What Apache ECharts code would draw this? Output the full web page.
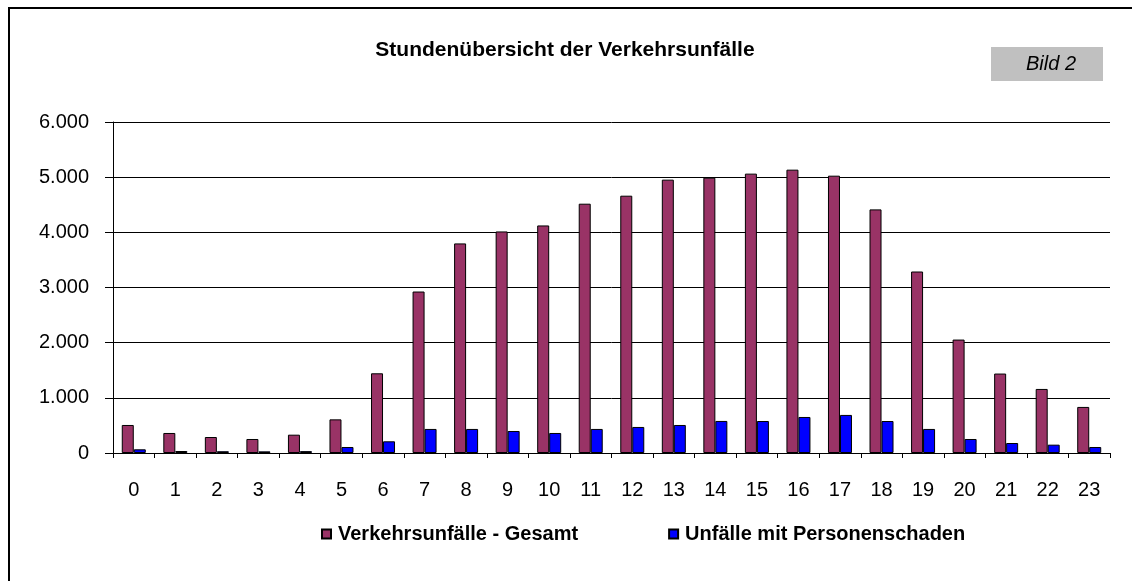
<!DOCTYPE html>
<html>
<head>
<meta charset="utf-8">
<script src="https://cdn.jsdelivr.net/npm/echarts@6/dist/echarts.min.js"></script>
<style>
  html, body { margin: 0; padding: 0; background: #fff; }
  #main { width: 1132px; height: 581px; }
</style>
</head>
<body>
<div id="main"></div>
<script>
var chartDom = document.getElementById('main');
var myChart = echarts.init(chartDom);
var option;

const FONT = '"Liberation Sans", Arial, sans-serif';

// Stunden 0..23
const hours = ['0', '1', '2', '3', '4', '5', '6', '7', '8', '9', '10', '11',
  '12', '13', '14', '15', '16', '17', '18', '19', '20', '21', '22', '23'];

const gesamt = [508, 363, 290, 254, 332, 610, 1445, 2927, 3799, 4016, 4125, 4519,
  4664, 4955, 4991, 5064, 5136, 5027, 4416, 3290, 2056, 1440, 1161, 835];

const personenschaden = [67, 36, 32, 30, 34, 109, 212, 436, 436, 399, 363, 436,
  472, 508, 581, 580, 653, 690, 580, 436, 254, 181, 151, 109];

const seriesNames = ['Verkehrsunfälle - Gesamt', 'Unfälle mit Personenschaden'];

function formatThousands(v) {
  return String(v).replace(/\B(?=(\d{3})+(?!\d))/g, '.');
}

option = {
  animation: false,
  backgroundColor: '#fff',
  textStyle: { fontFamily: FONT },
  title: {
    text: 'Stundenübersicht der Verkehrsunfälle',
    left: 560,
    textAlign: 'center',
    top: 35,
    textStyle: { fontFamily: FONT, fontSize: 21, fontWeight: 'bold', color: '#000' }
  },
  legend: {
    data: seriesNames,
    left: 316,
    top: 519,
    itemWidth: 9,
    itemHeight: 9,
    itemGap: 90,
    selectedMode: false,
    icon: 'rect',
    textStyle: { fontFamily: FONT, fontSize: 20, fontWeight: 'bold', color: '#000', padding: [0, 0, 0, 2] }
  },
  grid: {
    left: 113,
    right: 22,
    top: 122,
    bottom: 128,
    containLabel: false
  },
  xAxis: {
    type: 'category',
    data: hours,
    axisLine: { lineStyle: { color: '#000', width: 1 } },
    axisTick: { show: true, length: 5, lineStyle: { color: '#000' } },
    axisLabel: { margin: 27, fontFamily: FONT, fontSize: 20, color: '#000' },
    splitLine: { show: false }
  },
  yAxis: {
    type: 'value',
    min: 0,
    max: 6000,
    interval: 1000,
    axisLine: { show: true, lineStyle: { color: '#000', width: 1 } },
    axisTick: { show: true, length: 8, lineStyle: { color: '#000' } },
    axisLabel: {
      margin: 24,
      fontFamily: FONT,
      fontSize: 20,
      color: '#000',
      formatter: formatThousands
    },
    splitLine: { show: true, lineStyle: { color: '#000', width: 1 } }
  },
  graphic: [
    {
      type: 'rect',
      silent: true,
      shape: { x: 9, y: 8, width: 1400, height: 800 },
      style: { fill: 'none', stroke: '#000', lineWidth: 2 }
    },
    {
      type: 'rect',
      silent: true,
      shape: { x: 991, y: 47, width: 112, height: 34 },
      style: { fill: '#c0c0c0' }
    },
    {
      type: 'text',
      silent: true,
      x: 1051,
      y: 64,
      style: {
        text: 'Bild 2',
        fill: '#000',
        font: 'italic 20px "Liberation Sans", Arial, sans-serif',
        textAlign: 'center',
        textVerticalAlign: 'middle'
      }
    }
  ],
  series: [
    {
      name: seriesNames[0],
      type: 'bar',
      data: gesamt,
      barWidth: 12,
      barGap: '0%',
      itemStyle: { color: '#993366', borderColor: '#000', borderWidth: 1 }
    },
    {
      name: seriesNames[1],
      type: 'bar',
      data: personenschaden,
      barWidth: 12,
      barGap: '0%',
      itemStyle: { color: '#0000ff', borderColor: '#000', borderWidth: 1 }
    }
  ]
};

option && myChart.setOption(option);
</script>
</body>
</html>
